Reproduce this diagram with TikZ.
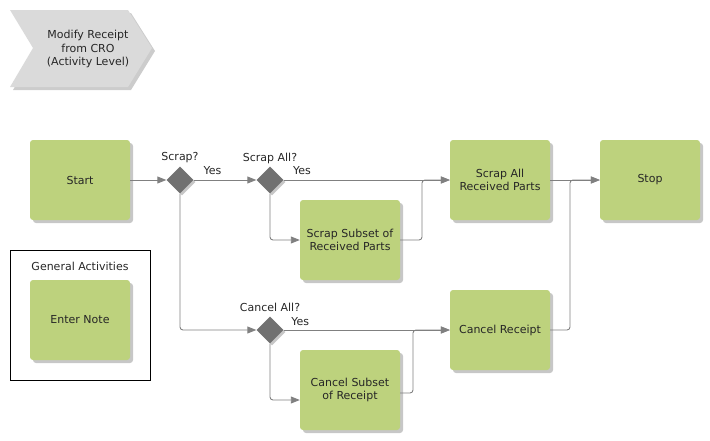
\documentclass[tikz,border=0pt]{standalone}
\usepackage{fontspec}
\setmainfont{DejaVu Sans}
\usetikzlibrary{shapes.geometric,arrows.meta,shadows}
\definecolor{boxgreen}{HTML}{BDD27D}
\definecolor{diagray}{HTML}{717171}
\definecolor{linegray}{HTML}{808080}
\definecolor{chevgray}{HTML}{DADADA}
\tikzset{
  txt/.style={font=\fontsize{11}{13.5}\selectfont, text=black!85},
  task/.style={txt, rectangle, minimum width=100pt, minimum height=80pt, inner sep=0pt,
     fill=boxgreen, rounded corners=3pt, align=center,
     drop shadow={shadow xshift=3pt, shadow yshift=-3pt, fill=black!22, opacity=1}},
  gate/.style={diamond, aspect=1, minimum width=27pt, minimum height=27pt, inner sep=0pt,
     fill=diagray, drop shadow={shadow xshift=2pt, shadow yshift=-2pt, fill=black!22, opacity=1}},
  flow/.style={draw=linegray, line width=0.9pt, rounded corners=3pt,
     -{Triangle[length=9pt,width=7pt]}, color=linegray},
  lbl/.style={txt, inner sep=0pt}
}
\begin{document}
\begin{tikzpicture}[x=1pt,y=-1pt]
\useasboundingbox (0,0) rectangle (710,440);
% chevron
\fill[black!20] (13,13) -- (131,13) -- (155,51) -- (131,90) -- (13,90) -- (36,51) -- cycle;
\fill[chevgray] (10,10) -- (128,10) -- (152,48) -- (128,87) -- (10,87) -- (33,48) -- cycle;
\node[lbl, align=center] (title) at (88,49) {Modify Receipt\\from CRO\\(Activity Level)};
% general activities frame
\draw[black, line width=0.8pt] (10,250) rectangle (150,380);
\node[lbl] (gen) at (80,266) {General Activities};
\node[task] (note) at (80,320) {Enter Note};
% tasks
\node[task] (start) at (80,180) {Start};
\node[task] (scrapall) at (500,180) {Scrap All\\Received Parts};
\node[task] (stop) at (650,180) {Stop};
\node[task] (scrapsub) at (350,240) {Scrap Subset of\\Received Parts};
\node[task] (cancel) at (500,330) {Cancel Receipt};
\node[task] (cancelsub) at (350,390) {Cancel Subset\\of Receipt};
% gateways
\node[gate] (g1) at (180,180) {};
\node[gate] (g2) at (270,180) {};
\node[gate] (g3) at (270,330) {};
\node[lbl] (g1l) at (180,158) {Scrap?};
\node[lbl] (g2l) at (270,158) {Scrap All?};
\node[lbl] (g3l) at (270,307) {Cancel All?};
% coordinates
\coordinate (m1) at (422,180);
\coordinate (m2) at (570,180);
\coordinate (m3) at (413,330);
% flows
\draw[flow] (start.east) -- (g1.west);
\draw[flow] (g1.east) -- node[lbl, above=5pt, pos=0.3] (y1) {Yes} (g2.west);
\draw[flow] (g1.south) |- (g3.west);
\draw[flow] (g2.east) -- node[lbl, above=5pt, pos=0.11] (y2) {Yes} (scrapall.west);
\draw[flow] (g2.south) |- (scrapsub.west);
\draw[flow] (scrapsub.east) -| (m1) -- (scrapall.west);
\draw[flow] (scrapall.east) -- (stop.west);
\draw[flow] (cancel.east) -| (m2) -- (stop.west);
\draw[flow] (g3.east) -- node[lbl, above=4pt, pos=0.1] (y3) {Yes} (cancel.west);
\draw[flow] (g3.south) |- ([yshift=-10pt]cancelsub.west);
\draw[flow] ([yshift=-3pt]cancelsub.east) -| (m3) -- (cancel.west);
\end{tikzpicture}
\end{document}
